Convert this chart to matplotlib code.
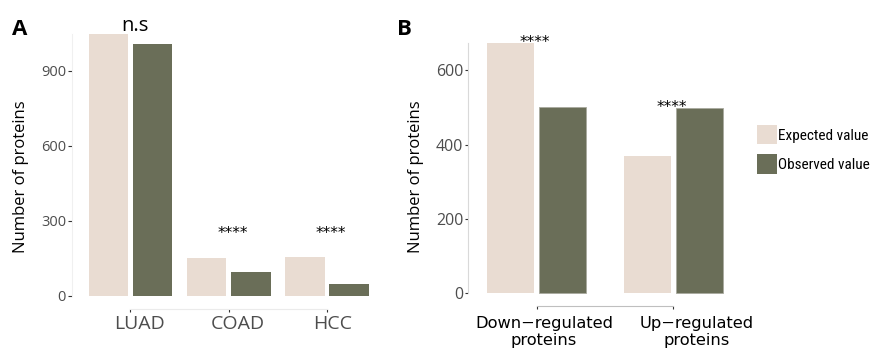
import matplotlib
matplotlib.use("Agg")
import matplotlib.pyplot as plt
import numpy as np

# ---- data ----
cats_a = ["LUAD", "COAD", "HCC"]
expected_a = [1049, 151, 157]
observed_a = [1009, 97, 47]
sig_a = ["n.s", "****", "****"]

cats_b = ["Down\u2212regulated\nproteins", "Up\u2212regulated\nproteins"]
expected_b = [674, 371]
observed_b = [502, 500]
sig_b = ["****", "****"]

series_names = ["Expected value", "Observed value"]
c_exp = "#E9DCD2"
c_obs = "#6A6E58"

W, H = 872, 349
fig = plt.figure(figsize=(W / 100, H / 100), dpi=100)

def px_box(l, r, top, bot):
    return [l / W, 1 - bot / H, (r - l) / W, (bot - top) / H]

font_main = ["Open Sans", "DejaVu Sans"]
tick_col = "#4D4D4D"

# ---- Panel A ----
axA = fig.add_axes(px_box(71.5, 386, 20.6, 309))
xa = np.arange(1, len(cats_a) + 1)
axA.bar(xa - 0.225, expected_a, width=0.4, color=c_exp)
axA.bar(xa + 0.225, observed_a, width=0.4, color=c_obs)
ymaxA = max(expected_a)
axA.set_xlim(0.4, len(cats_a) + 0.6)
axA.set_ylim(-0.05 * ymaxA, 1.05 * ymaxA)
axA.set_yticks([0, 300, 600, 900])
axA.set_yticklabels(["0", "300", "600", "900"], fontsize=10.5, color=tick_col, family=font_main)
axA.set_xticks(xa)
axA.set_xticklabels([])
axA.set_xticks(xa + np.array([0.087, 0.088, 0.06]), minor=True)
axA.set_xticklabels(cats_a, minor=True, fontsize=14, color=tick_col, family=font_main)
for s in ["top", "right"]:
    axA.spines[s].set_visible(False)
axA.spines["left"].set_color("#F0F0F0")
axA.spines["left"].set_bounds(0, ymaxA)
axA.spines["bottom"].set_color("#EBEBEB")
axA.spines["bottom"].set_bounds(1, len(cats_a))
axA.tick_params(axis="y", length=3, width=0.8, color="#333333", pad=1)
axA.tick_params(axis="x", which="major", length=2.5, width=0.8, color="#333333")
axA.tick_params(axis="x", which="minor", length=0, pad=4.5)
axA.set_facecolor("none")
fig.text(21 / W, 1 - 177 / H, "Number of proteins", rotation=90, ha="center", va="center",
         fontsize=12, family=font_main)
for i, s in enumerate(sig_a):
    top = max(expected_a[i], observed_a[i])
    if s == "n.s":
        axA.annotate(s, (xa[i], top), xytext=(3, -2), textcoords="offset points",
                     ha="center", va="bottom", fontsize=14.5, family=font_main)
    else:
        axA.annotate(s, (xa[i], 256), xytext=(3, -1), textcoords="offset points",
                     ha="center", va="center", fontsize=11, family=["DejaVu Sans"])
fig.text(12 / W, 1 - 35 / H, "A", fontsize=16, fontweight="bold", family=font_main, va="baseline")

# ---- Panel B ----
axB = fig.add_axes(px_box(468.3, 741.7, 30.3, 306))
xb = np.arange(1, len(cats_b) + 1)
axB.bar(xb - 0.19, expected_b, width=0.34, color=c_exp, label=series_names[0])
axB.bar(xb + 0.19, observed_b, width=0.34, color=c_obs, edgecolor="#A9AA9E", linewidth=0.6,
        label=series_names[1])
ymaxB = max(expected_b)
axB.set_xlim(0.5, len(cats_b) + 0.5)
axB.set_ylim(-0.05 * ymaxB, 1.05 * ymaxB)
axB.set_yticks([0, 200, 400, 600])
axB.set_yticklabels(["0", "200", "400", "600"], fontsize=11.5, color=tick_col, family=font_main)
axB.set_xticks(xb)
axB.set_xticklabels([])
axB.set_xticks(xb + np.array([0.053, 0.17]), minor=True)
axB.set_xticklabels(cats_b, minor=True, fontsize=11.7, color="black", family=["DejaVu Sans"],
                    linespacing=1.2)
for s in ["top", "right"]:
    axB.spines[s].set_visible(False)
axB.spines["left"].set_color("#D9D9D9")
axB.spines["left"].set_bounds(0, ymaxB)
axB.spines["bottom"].set_color("#BFBFBF")
axB.spines["bottom"].set_bounds(1, len(cats_b))
axB.tick_params(axis="y", length=2.5, width=0.8, color="#333333", pad=1)
axB.tick_params(axis="x", which="major", length=2.5, width=0.8, color="#333333")
axB.tick_params(axis="x", which="minor", length=0, pad=7)
axB.set_facecolor("none")
fig.text(416 / W, 1 - 177 / H, "Number of proteins", rotation=90, ha="center", va="center",
         fontsize=12, family=font_main)
for i, s in enumerate(sig_b):
    top = max(expected_b[i], observed_b[i])
    axB.annotate(s, (xb[i], top), xytext=(-1, 0), textcoords="offset points",
                 ha="center", va="center", fontsize=11, family=["DejaVu Sans"])
fig.text(397 / W, 1 - 35 / H, "B", fontsize=16, fontweight="bold", family=font_main, va="baseline")

leg = fig.legend(handles=axB.patches[:1] + axB.patches[2:3], labels=series_names,
                 loc="upper left", bbox_to_anchor=(756.7 / W, 1 - 125 / H), frameon=False,
                 borderpad=0, borderaxespad=0,
                 handlelength=1.31, handleheight=1.58, handletextpad=0.1, labelspacing=0.64,
                 prop={"family": ["Roboto Condensed", "DejaVu Sans"], "size": 11})
for h in leg.legend_handles:
    h.set_edgecolor("none")

fig.savefig("out.png", dpi=100)
